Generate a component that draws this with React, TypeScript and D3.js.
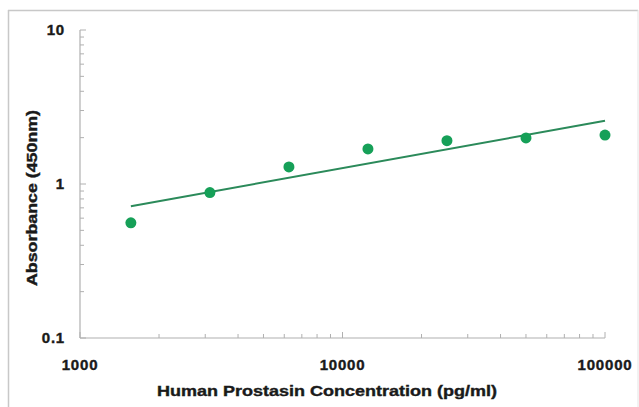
import React from "react";
import * as d3 from "d3";

const concentrations = [1562.5, 3125, 6250, 12500, 25000, 50000, 100000];
const absorbance = [0.56, 0.88, 1.29, 1.69, 1.91, 1.99, 2.08];
const xTicks = [1000, 10000, 100000];
const yTicks = [0.1, 1, 10];
const xTickLabels = ["1000", "10000", "100000"];
const yTickLabels = ["0.1", "1", "10"];

const W = 639;
const H = 407;
const left = 80, right = 605, top = 30, bottom = 338;

export default function App() {
  const x = d3.scaleLog().domain([1000, 100000]).range([left, right]);
  const y = d3.scaleLog().domain([0.1, 10]).range([bottom, top]);

  // power-law trendline (least squares in log-log space)
  const lx = concentrations.map((c) => Math.log10(c));
  const ly = absorbance.map((a) => Math.log10(a));
  const mx = d3.mean(lx)!;
  const my = d3.mean(ly)!;
  const slope =
    d3.sum(lx.map((v, i) => (v - mx) * (ly[i] - my))) /
    d3.sum(lx.map((v) => (v - mx) * (v - mx)));
  const intercept = my - slope * mx;
  const fit = (c: number) => Math.pow(10, intercept + slope * Math.log10(c));
  const x0 = concentrations[0];
  const x1 = concentrations[concentrations.length - 1];
  const lineGen = d3
    .line<number>()
    .x((c) => x(c))
    .y((c) => y(fit(c)));

  const minorX: number[] = [];
  for (let d = 1000; d < 100000; d *= 10) for (let k = 2; k <= 9; k++) minorX.push(d * k);
  const minorY: number[] = [];
  for (let d = 0.1; d < 9; d *= 10) for (let k = 2; k <= 9; k++) minorY.push(d * k);

  const font = "'Liberation Sans', Arial, sans-serif";

  return (
    <svg
      width={W}
      height={H}
      style={{ position: "absolute", left: 0, top: 0, background: "#fff" }}
      fontFamily={font}
    >
      <rect x={0} y={0} width={W} height={H} fill="#fff" />
      {/* frame */}
      <line x1={8} y1={10.5} x2={638} y2={10.5} stroke="#c8c8c8" strokeWidth={1.5} />
      <line x1={8.5} y1={10} x2={8.5} y2={H} stroke="#c8c8c8" strokeWidth={1.5} />
      <line x1={638} y1={10} x2={638} y2={H} stroke="#e4e4e4" strokeWidth={1} />

      {/* axes */}
      <line x1={left} y1={top} x2={left} y2={bottom} stroke="#b0b0b0" strokeWidth={1.2} />
      <line x1={left} y1={bottom} x2={right} y2={bottom} stroke="#b0b0b0" strokeWidth={1.2} />
      {minorY.map((v, i) => (
        <line key={"my" + i} x1={left} x2={left + 4} y1={y(v)} y2={y(v)} stroke="#b0b0b0" strokeWidth={1} />
      ))}
      {yTicks.map((v, i) => (
        <line key={"My" + i} x1={left} x2={left + 6} y1={y(v)} y2={y(v)} stroke="#b0b0b0" strokeWidth={1} />
      ))}
      {minorX.map((v, i) => (
        <line key={"mx" + i} x1={x(v)} x2={x(v)} y1={bottom} y2={bottom - 4} stroke="#b0b0b0" strokeWidth={1} />
      ))}
      {xTicks.map((v, i) => (
        <line key={"Mx" + i} x1={x(v)} x2={x(v)} y1={bottom} y2={bottom - 6} stroke="#b0b0b0" strokeWidth={1} />
      ))}

      {/* tick labels */}
      {yTicks.map((v, i) => (
        <text
          key={"yl" + i}
          x={left - 15}
          y={y(v)}
          dy="0.35em"
          textAnchor="end"
          fontSize={15}
          fontWeight="bold"
          fill="#1a1a1a"
          stroke="#1a1a1a"
          strokeWidth={0.4}
          letterSpacing={0.8}
        >
          {yTickLabels[i]}
        </text>
      ))}
      {xTicks.map((v, i) => (
        <text
          key={"xl" + i}
          x={x(v)}
          y={365}
          dy="0.35em"
          textAnchor="middle"
          fontSize={15}
          fontWeight="bold"
          fill="#1a1a1a"
          stroke="#1a1a1a"
          strokeWidth={0.4}
          letterSpacing={0.8}
        >
          {xTickLabels[i]}
        </text>
      ))}

      {/* titles */}
      <text
        x={327}
        y={391}
        dy="0.35em"
        textAnchor="middle"
        fontSize={15}
        fontWeight="bold"
        fill="#1a1a1a"
        stroke="#1a1a1a"
        strokeWidth={0.4}
        textLength={340}
        lengthAdjust="spacingAndGlyphs"
      >
        Human Prostasin Concentration (pg/ml)
      </text>
      <text
        transform={`translate(32,198) rotate(-90)`}
        dy="0.35em"
        textAnchor="middle"
        fontSize={15}
        fontWeight="bold"
        fill="#1a1a1a"
        stroke="#1a1a1a"
        strokeWidth={0.4}
        textLength={176}
        lengthAdjust="spacingAndGlyphs"
      >
        Absorbance (450nm)
      </text>

      {/* trendline */}
      <path d={lineGen([x0, x1]) || ""} stroke="#2b8a5a" strokeWidth={2} fill="none" />

      {/* points */}
      {concentrations.map((c, i) => (
        <circle key={"p" + i} cx={x(c)} cy={y(absorbance[i])} r={5.5} fill="#16a058" />
      ))}
    </svg>
  );
}
